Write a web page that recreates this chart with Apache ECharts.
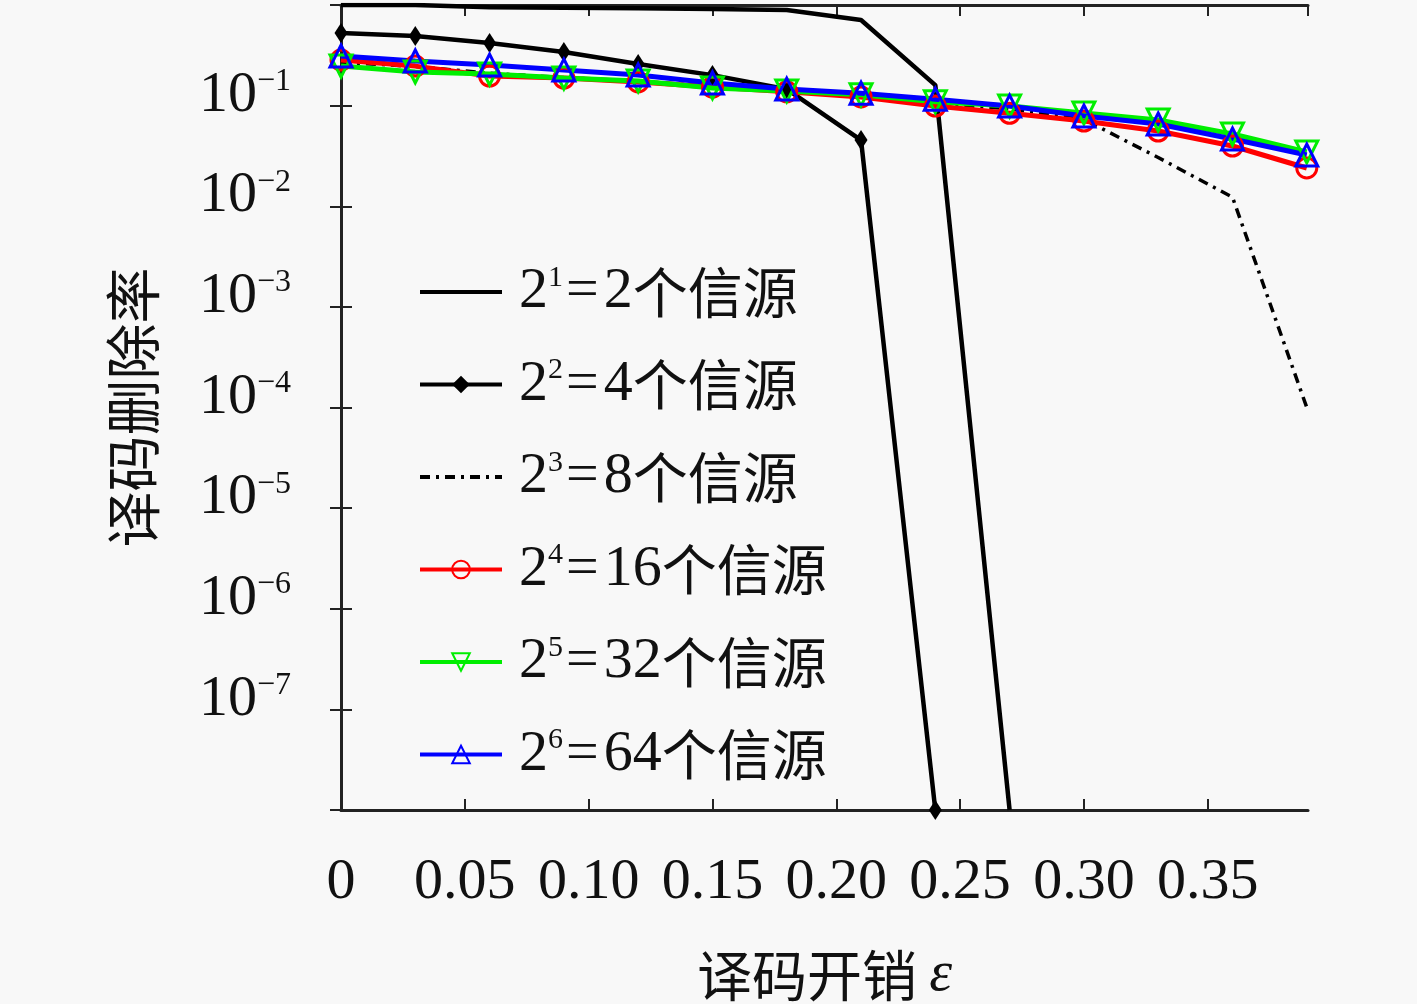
<!DOCTYPE html>
<html lang="zh">
<head>
<meta charset="UTF-8">
<title>译码删除率</title>
<script src="https://cdn.jsdelivr.net/npm/echarts@6/dist/echarts.min.js"></script>
<style>
    html, body { margin: 0; padding: 0; background: #f8f8f8; }
    #chart { width: 1417px; height: 1004px; }
</style>
</head>
<body>
<div id="chart"></div>
<script>
    // 译码开销 (x)
    var overhead = [0, 0.03, 0.06, 0.09, 0.12, 0.15, 0.18, 0.21, 0.24, 0.27, 0.30, 0.33, 0.36, 0.39];

    // 译码删除率, one array per number of sources
    var src2  = [1.0, 1.0, 0.95, 0.94, 0.93, 0.915, 0.89, 0.71, 0.16, 1e-8];
    var src4  = [0.527, 0.492, 0.419, 0.341, 0.259, 0.201, 0.146, 0.0455, 1e-8];
    var src8  = [0.27, 0.245, 0.21, 0.19, 0.175, 0.155, 0.14, 0.125, 0.105, 0.093, 0.073, 0.0305, 0.0123, 1.0e-4];
    var src16 = [0.284, 0.247, 0.197, 0.188, 0.172, 0.153, 0.137, 0.122, 0.099, 0.084, 0.0703, 0.0559, 0.0397, 0.024];
    var src32 = [0.247, 0.216, 0.206, 0.188, 0.176, 0.150, 0.140, 0.128, 0.109, 0.099, 0.0844, 0.0719, 0.0522, 0.0346];
    var src64 = [0.311, 0.278, 0.253, 0.226, 0.202, 0.168, 0.146, 0.133, 0.116, 0.099, 0.0788, 0.0657, 0.0466, 0.0323];

    var powers = ['1', '2', '3', '4', '5', '6'];
    var counts = ['2', '4', '8', '16', '32', '64'];
    var xTicks = ['0', '0.05', '0.10', '0.15', '0.20', '0.25', '0.30', '0.35'];

    var serif = "'Liberation Serif', 'DejaVu Serif', serif";
    var cjk = "'Noto Sans CJK SC', sans-serif";

    function pairs(ys) {
        var out = [];
        for (var i = 0; i < ys.length; i++) {
            out.push([overhead[i], ys[i]]);
        }
        return out;
    }

    function seriesName(i) {
        return '2^' + powers[i] + '=' + counts[i] + '个信源';
    }

    var myChart = echarts.init(document.getElementById('chart'));

    var hollow = function (c) {
        return { color: 'rgba(0,0,0,0)', borderColor: c, borderWidth: 3 };
    };

    // series without markers: hide the legend symbol, keep the line
    var legendItems = [0, 1, 2, 3, 4, 5].map(function (i) {
        var item = { name: seriesName(i) };
        if (i === 0 || i === 2) item.itemStyle = { opacity: 0 };
        return item;
    });

    var option = {
        backgroundColor: '#f8f8f8',
        animation: false,
        grid: { left: 341, right: 109, top: 5, bottom: 194, outerBoundsMode: 'none' },
        legend: {
            orient: 'vertical',
            left: 413,
            top: 256,
            itemWidth: 82,
            itemHeight: 22,
            itemGap: 32.5,
            selectedMode: false,
            data: legendItems,
            lineStyle: { width: 4 },
            formatter: function (name) {
                var i = [0, 1, 2, 3, 4, 5].filter(function (k) { return seriesName(k) === name; })[0];
                return '{n|2}{s|' + powers[i] + '}{e|=}{n|' + counts[i] + '}{c|个信源}';
            },
            textStyle: {
                padding: [0, 0, 0, 12],
                rich: {
                    n: { fontFamily: serif, fontSize: 58, color: '#111', lineHeight: 62 },
                    e: { fontFamily: serif, fontSize: 58, color: '#111', lineHeight: 62, padding: [0, 5, 0, 3] },
                    s: { fontFamily: serif, fontSize: 30, color: '#111', verticalAlign: 'top', lineHeight: 62, padding: [2, 0, 0, 0] },
                    c: { fontFamily: cjk, fontSize: 55, color: '#111', lineHeight: 62 }
                }
            }
        },
        xAxis: [{
            type: 'value',
            min: 0,
            max: 0.3905,
            interval: 0.05,
            name: '{a|译码开销 }{e|ε}',
            nameLocation: 'middle',
            nameGap: 136,
            nameTextStyle: {
                rich: {
                    a: { fontFamily: cjk, fontSize: 55, color: '#111' },
                    e: { fontFamily: serif, fontSize: 58, fontStyle: 'italic', color: '#111' }
                }
            },
            axisLine: { lineStyle: { color: '#222', width: 3 } },
            axisTick: { inside: true, length: 11, lineStyle: { color: '#222', width: 2 } },
            splitLine: { show: false },
            axisLabel: {
                margin: 44,
                showMaxLabel: false,
                fontFamily: serif,
                fontSize: 58,
                color: '#111',
                formatter: function (v) {
                    return xTicks[Math.round(v / 0.05)] || '';
                }
            }
        }, {
            type: 'value',
            position: 'top',
            min: 0,
            max: 0.3905,
            interval: 0.05,
            axisLine: { lineStyle: { color: '#222', width: 3 } },
            axisTick: { inside: true, length: 11, lineStyle: { color: '#222', width: 2 } },
            axisLabel: { show: false },
            splitLine: { show: false }
        }],
        yAxis: [{
            type: 'log',
            logBase: 10,
            min: 1e-8,
            max: 1,
            splitNumber: 8,
            name: '译码删除率',
            nameLocation: 'middle',
            nameGap: 180,
            nameTextStyle: { fontFamily: cjk, fontSize: 56, color: '#111' },
            axisLine: { lineStyle: { color: '#222', width: 3 } },
            axisTick: { inside: true, length: 11, lineStyle: { color: '#222', width: 2 } },
            splitLine: { show: false },
            axisLabel: {
                margin: 50,
                padding: [0, 0, 20, 0],
                formatter: function (v) {
                    var e = Math.round(Math.log(v) / Math.LN10);
                    if (e >= 0 || e <= -8) return '';
                    return '{b|10}{s|−' + (-e) + '}';
                },
                rich: {
                    b: { fontFamily: serif, fontSize: 58, color: '#111', lineHeight: 60 },
                    s: { fontFamily: serif, fontSize: 32, color: '#111', verticalAlign: 'top', lineHeight: 60 }
                }
            }
        }, {
            type: 'log',
            logBase: 10,
            min: 1e-8,
            max: 1,
            splitNumber: 8,
            position: 'right',
            axisLine: { lineStyle: { color: '#222', width: 3 } },
            axisTick: { inside: true, length: 11, lineStyle: { color: '#222', width: 2 } },
            axisLabel: { show: false },
            splitLine: { show: false }
        }],
        series: [{
            name: seriesName(0),
            type: 'line',
            data: pairs(src2),
            symbol: 'none',
            lineStyle: { color: '#000', width: 4.5 },
            itemStyle: { color: '#000' }
        }, {
            name: seriesName(1),
            type: 'line',
            data: pairs(src4),
            symbol: 'diamond',
            symbolSize: [13, 20],
            lineStyle: { color: '#000', width: 4.5 },
            itemStyle: { color: '#000' }
        }, {
            name: seriesName(2),
            type: 'line',
            data: pairs(src8),
            symbol: 'none',
            lineStyle: { color: '#000', width: 3.5, type: [10, 6, 3, 6] },
            itemStyle: { color: '#000' }
        }, {
            name: seriesName(3),
            type: 'line',
            data: pairs(src16),
            symbol: 'circle',
            symbolSize: 20,
            lineStyle: { color: '#ff0000', width: 5 },
            itemStyle: hollow('#ff0000')
        }, {
            name: seriesName(4),
            type: 'line',
            data: pairs(src32),
            symbol: 'triangle',
            symbolRotate: 180,
            symbolSize: 22,
            lineStyle: { color: '#00ee00', width: 5 },
            itemStyle: hollow('#00ee00')
        }, {
            name: seriesName(5),
            type: 'line',
            data: pairs(src64),
            symbol: 'triangle',
            symbolSize: 22,
            lineStyle: { color: '#0000ff', width: 5 },
            itemStyle: hollow('#0000ff')
        }]
    };

    myChart.setOption(option);
</script>
</body>
</html>
